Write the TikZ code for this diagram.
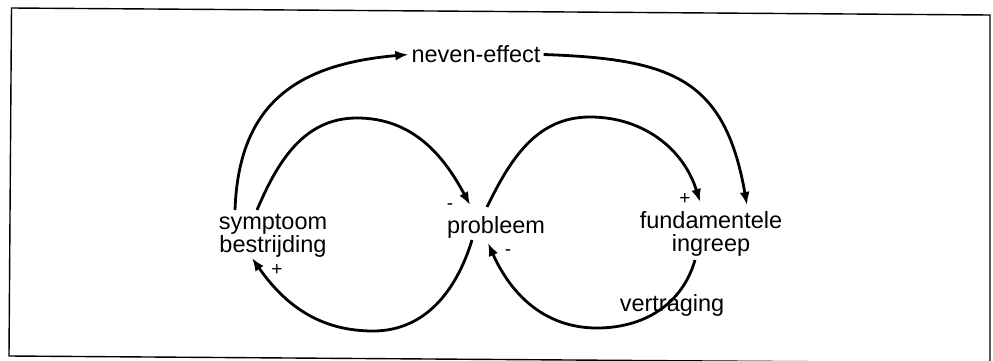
\documentclass[tikz,border=0pt]{standalone}
\usepackage{fontspec}
\setmainfont{Liberation Sans}
\usetikzlibrary{arrows.meta}
\begin{document}
\begin{tikzpicture}[x=1pt,y=1pt,
  lbl/.style={font=\fontsize{23.5}{21}\selectfont, inner sep=0pt, align=center},
  sgn/.style={font=\fontsize{19}{19}\selectfont, inner sep=0pt},
  link/.style={line width=2.8pt, -{Latex[length=13pt,width=10pt]}},
  frame/.style={line width=1.4pt}]
\clip (0,0) rectangle (993,360);
\draw[frame] (11.5,352) -- (990,345) -- (990,-3) -- (9,4) -- cycle;
% nodes
\node[lbl, font=\fontsize{23.5}{20.5}\selectfont] (sb) at (273,124) {symptoom\\bestrijding};
\node[lbl] (pr) at (496,133) {probleem};
\node[lbl, font=\fontsize{23.5}{23}\selectfont] (fi) at (711,126.5) {fundamentele\\ingreep};
\node[lbl, inner xsep=3pt] (ne) at (476,305.5) {neven-effect};
\node[lbl] (vt) at (672,55) {vertraging};
% connectors
\draw[link] ([shift={(-38,26)}]sb.center) to[out=88,in=185,looseness=1.2] (ne.west);
\draw[link] (ne.east) to[out=-2,in=100,looseness=1.3] ([shift={(36,28.5)}]fi.center);
\draw[link] ([shift={(-16,26)}]sb.center) to[out=67,in=180] (357,242) to[out=0,in=118] ([shift={(-26,22)}]pr.center);
\draw[link] ([shift={(-9,20)}]pr.center) to[out=64,in=180] (590,243) to[out=0,in=107] ([shift={(-11,31.5)}]fi.center);
\draw[link] ([shift={(-24,-13)}]pr.center) to[out=253,in=0] (373,29) to[out=180,in=-55] ([shift={(-21,-22)}]sb.center);
\draw[link] ([shift={(-16,-26.5)}]fi.center) to[out=254,in=0] (597,32) to[out=180,in=-66] ([shift={(-8,-16)}]pr.center);
% signs
\node[sgn] (m1) at (450,153) {-};
\node[sgn] (p1) at (685,161) {+};
\node[sgn] (p2) at (277,90) {+};
\node[sgn] (m2) at (508,107) {-};
\end{tikzpicture}
\end{document}
